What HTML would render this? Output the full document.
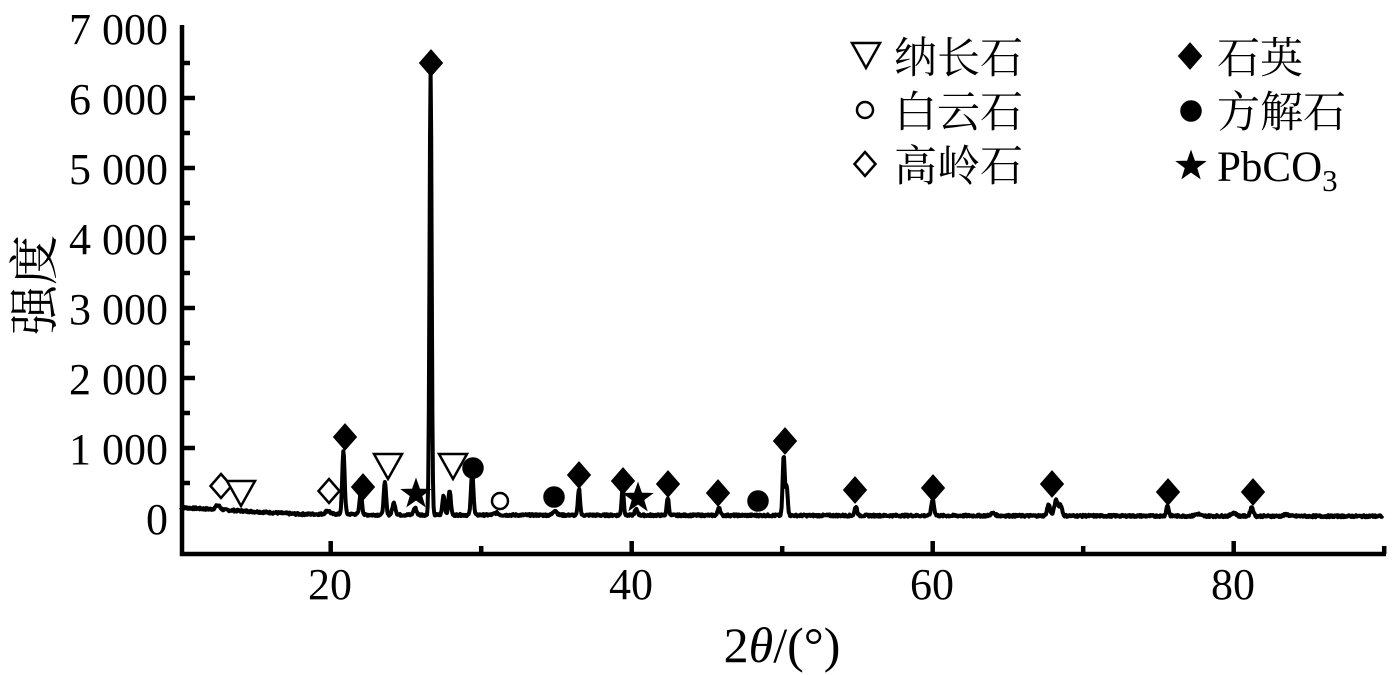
<!DOCTYPE html>
<html><head><meta charset="utf-8"><style>
html,body{margin:0;padding:0;background:#fff;}
svg{display:block;}
text{font-family:"Liberation Serif","Noto Serif CJK SC",serif;fill:#000;}
</style></head><body>
<svg id="s" width="1394" height="675" viewBox="0 0 1394 675" xmlns="http://www.w3.org/2000/svg">
<g id="ax" stroke="#000" stroke-width="4.5" fill="none">
<path d="M182,25 V554 H1386"/>
</g>
<g font-size="44" text-anchor="end">
<text x="168" y="534">0</text>
<text x="168" y="464">1 000</text>
<text x="168" y="394">2 000</text>
<text x="168" y="324">3 000</text>
<text x="168" y="254">4 000</text>
<text x="168" y="184">5 000</text>
<text x="168" y="114">6 000</text>
<text x="168" y="44">7 000</text>
</g>
<g font-size="44" text-anchor="middle">
<text x="330" y="599">20</text>
<text x="631" y="599">40</text>
<text x="932" y="599">60</text>
<text x="1233" y="599">80</text>
</g>
<text x="782" y="662" font-size="50" text-anchor="middle">2<tspan font-style="italic">θ</tspan>/(°)</text>
<text transform="translate(52,285) rotate(-90)" font-size="50" text-anchor="middle">强度</text>
<g font-size="43">
<text x="894" y="73">纳长石</text>
<text x="894" y="127">白云石</text>
<text x="894" y="181">高岭石</text>
<text x="1217" y="73">石英</text>
<text x="1217" y="127">方解石</text>
<text x="1217" y="181">PbCO<tspan font-size="31" dy="10">3</tspan></text>
</g>
<g id="mk" stroke="#000" stroke-width="2.5"></g>
</svg>
<script>
var s=document.getElementById('s'),ax=document.getElementById('ax'),mk=document.getElementById('mk');
var NS="http://www.w3.org/2000/svg";
function el(p,t,a){var e=document.createElementNS(NS,t);for(var k in a)e.setAttribute(k,a[k]);p.appendChild(e);return e;}
function X(v){return 330.7+15.05*(v-20);}
function Y(i){return 518-0.07*i;}
var d="";
for(var i=500;i<7000;i+=500){var y=Y(i);d+="M182,"+y+"h"+(i%1000?8:13);}
for(var v=20;v<=90;v+=10){var x=X(v);d+="M"+x+",554v"+(v%20?-8:-13);}
el(ax,'path',{d:d});
var pk=[[12.5,60,.15],[19.8,50,.15],[20.85,900,.08],[22.0,320,.08],[23.6,460,.08],[24.2,170,.1],[25.6,100,.1],[26.64,6350,.07],[27.5,280,.08],[27.9,350,.08],[29.4,620,.08],[31.0,30,.15],[34.9,70,.12],[36.5,380,.07],[39.4,400,.07],[40.3,80,.1],[42.4,250,.07],[45.8,120,.08],[50.1,850,.07],[50.3,420,.07],[54.9,130,.08],[60.0,230,.09],[64,35,.15],[67.7,160,.1],[68.2,220,.12],[68.5,150,.1],[75.6,150,.08],[77.6,30,.15],[80,50,.15],[81.2,130,.1],[83.5,25,.15]];
var seed=7;function rnd(){seed=(seed*9301+49297)%233280;return seed/233280;}
var pts=[];
for(var v=10;v<=89.9;v+=0.04){
 var b= v<18? 150-(v-10)*12 : (v<22?55:45-(v-22)*0.3);
 if(b<25)b=25;
 var I=b+(rnd()-0.5)*30;
 for(var j=0;j<pk.length;j++){var p=pk[j];var z=(v-p[0])/p[2];if(Math.abs(z)<6)I+=p[1]*Math.exp(-z*z/2);}
 pts.push(X(v).toFixed(1)+","+Y(I).toFixed(1));
}
el(s,'polyline',{points:pts.join(" "),fill:"none",stroke:"#000","stroke-width":4,"stroke-linejoin":"round"});
function dia(x,y,f){el(mk,'path',{d:"M"+x+","+(y-12)+"l10.5,12l-10.5,12l-10.5-12z",fill:f?"#000":"#fff"});}
function tri(x,y){el(mk,'path',{d:"M"+(x-14)+","+(y-12)+"h28l-14,25z",fill:"#fff"});}
function cir(x,y,f){el(mk,'circle',{cx:x,cy:y,r:f?9.5:8,fill:f?"#000":"#fff"});}
function star(x,y){var r=15,q=6,p="";for(var k=0;k<10;k++){var a=-Math.PI/2+k*Math.PI/5,rr=k%2?q:r;p+=(k?"L":"M")+(x+rr*Math.cos(a)).toFixed(1)+","+(y+rr*Math.sin(a)).toFixed(1);}el(mk,'path',{d:p+"z",fill:"#000","stroke-width":1});}
dia(221,486,0);dia(329,491,0);
tri(241,493);tri(388,466);tri(453,466);
[[345,437],[363,487],[431,63],[579,475],[623,481],[668,484],[718,493],[785,441],[855,490],[933,488],[1052,484],[1168,492],[1253,492]].forEach(function(a){dia(a[0],a[1],1);});
cir(473,468,1);cir(554,497,1);cir(758,501,1);cir(500,501,0);
star(416,494);star(638,498);
tri(866,55);cir(865,110,0);dia(865,164,0);
dia(1190,56,1);cir(1191,111,1);star(1191,166);
</script>
</body></html>
